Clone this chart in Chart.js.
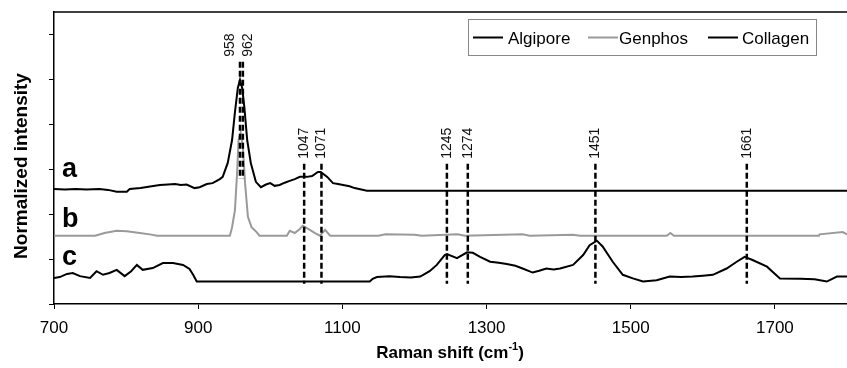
<!DOCTYPE html>
<html>
<head>
<meta charset="utf-8">
<script src="https://cdn.jsdelivr.net/npm/chart.js@4.4.1/dist/chart.umd.min.js"></script>
<style>
  html, body { margin: 0; padding: 0; background: #fff; }
  #wrap { width: 847px; height: 368px; }
</style>
</head>
<body>
<div id="wrap"><canvas id="myChart"></canvas></div>
<script>
/* globals Chart:false */

// Raman shift (cm-1), normalized intensity (offset per trace)
const algipore = [
  [700, 2.56], [715, 2.55], [730, 2.56], [745, 2.55], [763, 2.56], [775, 2.54],
  [787, 2.50], [801, 2.50], [805, 2.56], [820, 2.58], [840, 2.63], [847, 2.65],
  [858, 2.66], [868, 2.67], [876, 2.65], [884, 2.66], [895, 2.58], [902, 2.60],
  [912, 2.67], [920, 2.69], [930, 2.78], [934, 2.83], [941, 3.14], [947, 3.65],
  [951, 4.27], [955, 4.81], [958, 4.99], [961, 4.81], [964, 4.39], [968, 3.65],
  [973, 3.14], [980, 2.72], [987, 2.60], [994, 2.66], [1000, 2.69], [1006, 2.63],
  [1013, 2.65], [1020, 2.70], [1027, 2.74], [1034, 2.78], [1041, 2.83], [1051, 2.83],
  [1058, 2.85], [1066, 2.94], [1070, 2.94], [1079, 2.83], [1087, 2.69], [1094, 2.67],
  [1101, 2.65], [1110, 2.62], [1117, 2.58], [1134, 2.52], [1800, 2.52]
]

const genphos = [
  [700, 1.52], [757, 1.52], [770, 1.58], [787, 1.63], [801, 1.62], [819, 1.58],
  [833, 1.55], [843, 1.52], [900, 1.52], [944, 1.52], [947, 1.71], [951, 2.09],
  [954, 2.92], [956, 3.65], [959, 3.81], [962, 3.50], [965, 2.69], [969, 1.94],
  [974, 1.71], [981, 1.60], [985, 1.52], [1023, 1.52], [1027, 1.63], [1034, 1.58],
  [1041, 1.67], [1045, 1.74], [1055, 1.65], [1062, 1.58], [1069, 1.52], [1076, 1.65],
  [1083, 1.52], [1150, 1.52], [1160, 1.55], [1200, 1.54], [1210, 1.52], [1260, 1.55],
  [1270, 1.52], [1350, 1.55], [1360, 1.52], [1420, 1.54], [1430, 1.52], [1550, 1.52],
  [1555, 1.58], [1560, 1.52], [1761, 1.52], [1762, 1.55], [1794, 1.60], [1800, 1.55]
]

const collagen = [
  [700, 0.58], [708, 0.60], [718, 0.67], [726, 0.69], [736, 0.62], [750, 0.58],
  [759, 0.73], [768, 0.65], [777, 0.69], [787, 0.76], [798, 0.62], [807, 0.73],
  [815, 0.87], [823, 0.76], [837, 0.80], [851, 0.91], [865, 0.91], [879, 0.87],
  [888, 0.78], [893, 0.65], [898, 0.50], [1138, 0.50], [1142, 0.56], [1148, 0.60],
  [1165, 0.62], [1180, 0.60], [1195, 0.59], [1208, 0.61], [1221, 0.73], [1231, 0.87],
  [1242, 1.09], [1245, 1.11], [1259, 1.02], [1273, 1.15], [1281, 1.14], [1291, 1.05],
  [1305, 0.94], [1317, 0.92], [1328, 0.89], [1340, 0.85], [1350, 0.79], [1364, 0.70],
  [1373, 0.74], [1383, 0.79], [1393, 0.77], [1402, 0.79], [1420, 0.87], [1434, 1.09],
  [1443, 1.31], [1453, 1.41], [1461, 1.28], [1475, 0.94], [1489, 0.65], [1503, 0.57],
  [1517, 0.50], [1536, 0.53], [1554, 0.61], [1570, 0.60], [1586, 0.61], [1600, 0.63],
  [1614, 0.65], [1633, 0.79], [1647, 0.94], [1658, 1.05], [1669, 0.98], [1689, 0.83],
  [1707, 0.57], [1735, 0.56], [1755, 0.55], [1772, 0.50], [1786, 0.61], [1800, 0.61]
]

// marked peaks: position, dashed line top and bottom (intensity units)
const peakShift = [958, 962, 1047, 1071, 1245, 1274, 1451, 1661]
const peakTop = [5.39, 5.39, 3.12, 3.12, 3.12, 3.12, 3.12, 3.12]
const peakBottom = [2.78, 2.78, 0.45, 0.45, 0.45, 0.45, 0.45, 0.45]

const xTicks = [700, 900, 1100, 1300, 1500, 1700]
const yTicks = [0, 1, 2, 3, 4, 5, 6]

const seriesNames = ['Algipore', 'Genphos', 'Collagen']
const traceLetters = ['a', 'b', 'c']

const FONT = "'Liberation Sans', Arial, Helvetica, sans-serif"
const GRAY = '#9a9a9a'

const toPoints = arr => arr.map(([x, y]) => ({ x, y }))

// label nudges so the two close labels don't overlap
const labelNudge = { 958: -10, 962: 5 }

const annotate = {
  id: 'annotate',
  afterDraw(chart) {
    const { ctx, chartArea, scales } = chart
    const x = scales.x
    const y = scales.y
    ctx.save()

    // top frame line
    ctx.strokeStyle = '#000'
    ctx.lineWidth = 1.5
    ctx.beginPath()
    ctx.moveTo(chartArea.left, chartArea.top)
    ctx.lineTo(chartArea.right, chartArea.top)
    ctx.stroke()

    // peak labels
    ctx.fillStyle = '#111'
    ctx.font = `14px ${FONT}`
    ctx.textAlign = 'left'
    ctx.textBaseline = 'middle'
    peakShift.forEach((p, i) => {
      const px = x.getPixelForValue(p) + (labelNudge[p] || 0)
      const py = y.getPixelForValue(peakTop[i]) - 5
      ctx.save()
      ctx.translate(px, py)
      ctx.rotate(-Math.PI / 2)
      ctx.fillText(String(p), 0, 0)
      ctx.restore()
    })

    // trace letters
    ctx.fillStyle = '#000'
    ctx.font = `bold 27px ${FONT}`
    ctx.textBaseline = 'alphabetic'
    const letterBase = [177, 227, 265]
    traceLetters.forEach((t, i) => ctx.fillText(t, 62, letterBase[i]))

    // y title
    ctx.font = `bold 19px ${FONT}`
    ctx.textAlign = 'center'
    ctx.textBaseline = 'middle'
    ctx.save()
    ctx.translate(22, 166)
    ctx.rotate(-Math.PI / 2)
    ctx.fillText('Normalized intensity', 0, 0)
    ctx.restore()

    // x title with superscript
    const main = 'Raman shift (cm'
    const sup = '-1'
    const close = ')'
    ctx.textAlign = 'left'
    ctx.textBaseline = 'alphabetic'
    ctx.font = `bold 17px ${FONT}`
    const w1 = ctx.measureText(main).width
    const w3 = ctx.measureText(close).width
    ctx.font = `bold 11px ${FONT}`
    const w2 = ctx.measureText(sup).width
    let tx = 450 - (w1 + w2 + w3) / 2
    const base = 358
    ctx.font = `bold 17px ${FONT}`
    ctx.fillText(main, tx, base)
    tx += w1
    ctx.font = `bold 11px ${FONT}`
    ctx.fillText(sup, tx, base - 8)
    tx += w2
    ctx.font = `bold 17px ${FONT}`
    ctx.fillText(close, tx, base)

    // legend box
    ctx.fillStyle = '#fff'
    ctx.fillRect(468, 19, 348, 36)
    ctx.strokeStyle = '#888'
    ctx.lineWidth = 1
    ctx.strokeRect(468.5, 19.5, 348, 36)
    const legendLine = [473, 588, 708]
    const legendText = [508, 619, 742]
    const legendColor = ['#000', GRAY, '#000']
    ctx.font = `17px ${FONT}`
    ctx.textBaseline = 'middle'
    seriesNames.forEach((name, i) => {
      ctx.strokeStyle = legendColor[i]
      ctx.lineWidth = 2
      ctx.beginPath()
      ctx.moveTo(legendLine[i], 37.5)
      ctx.lineTo(legendLine[i] + 30, 37.5)
      ctx.stroke()
      ctx.fillStyle = '#000'
      ctx.fillText(name, legendText[i], 39)
    })

    ctx.restore()
  }
}

const curveStyle = color => ({
  borderColor: color,
  backgroundColor: color,
  borderWidth: 2,
  pointRadius: 0,
  tension: 0,
  fill: false,
  order: 2
})

const datasets = [
  { label: seriesNames[0], data: toPoints(algipore), ...curveStyle('#000') },
  { label: seriesNames[1], data: toPoints(genphos), ...curveStyle(GRAY) },
  { label: seriesNames[2], data: toPoints(collagen), ...curveStyle('#000') }
]

peakShift.forEach((p, i) => {
  datasets.push({
    label: 'peak ' + p,
    data: [{ x: p, y: peakTop[i] }, { x: p, y: peakBottom[i] }],
    borderColor: '#000',
    borderWidth: 2.5,
    borderDash: [6, 3],
    pointRadius: 0,
    order: 1
  })
})

const ctx = document.getElementById('myChart')
// eslint-disable-next-line no-unused-vars
const myChart = new Chart(ctx, {
  type: 'line',
  data: { datasets },
  options: {
    responsive: true,
    maintainAspectRatio: false,
    animation: false,
    devicePixelRatio: 1,
    layout: { padding: { top: 12, right: 0, left: 0, bottom: 0 } },
    plugins: {
      legend: { display: false },
      tooltip: { enabled: false }
    },
    scales: {
      x: {
        type: 'linear',
        min: 700,
        max: 1800,
        afterBuildTicks: axis => { axis.ticks = xTicks.map(v => ({ value: v })) },
        afterFit: axis => { axis.height = 64 },
        border: { color: '#000', width: 1.5 },
        grid: { drawOnChartArea: false, drawTicks: true, tickLength: 5, color: '#000' },
        ticks: {
          color: '#000',
          font: { size: 17, family: FONT },
          padding: 9,
          maxRotation: 0,
          autoSkip: false,
          callback: v => String(v)
        }
      },
      y: {
        type: 'linear',
        min: 0,
        max: 6.5,
        afterBuildTicks: axis => { axis.ticks = yTicks.map(v => ({ value: v })) },
        afterFit: axis => { axis.width = 54 },
        border: { color: '#000', width: 1.5 },
        grid: { drawOnChartArea: false, drawTicks: true, tickLength: 5, color: '#000' },
        ticks: { display: false }
      }
    }
  },
  plugins: [annotate]
})
</script>
</body>
</html>
